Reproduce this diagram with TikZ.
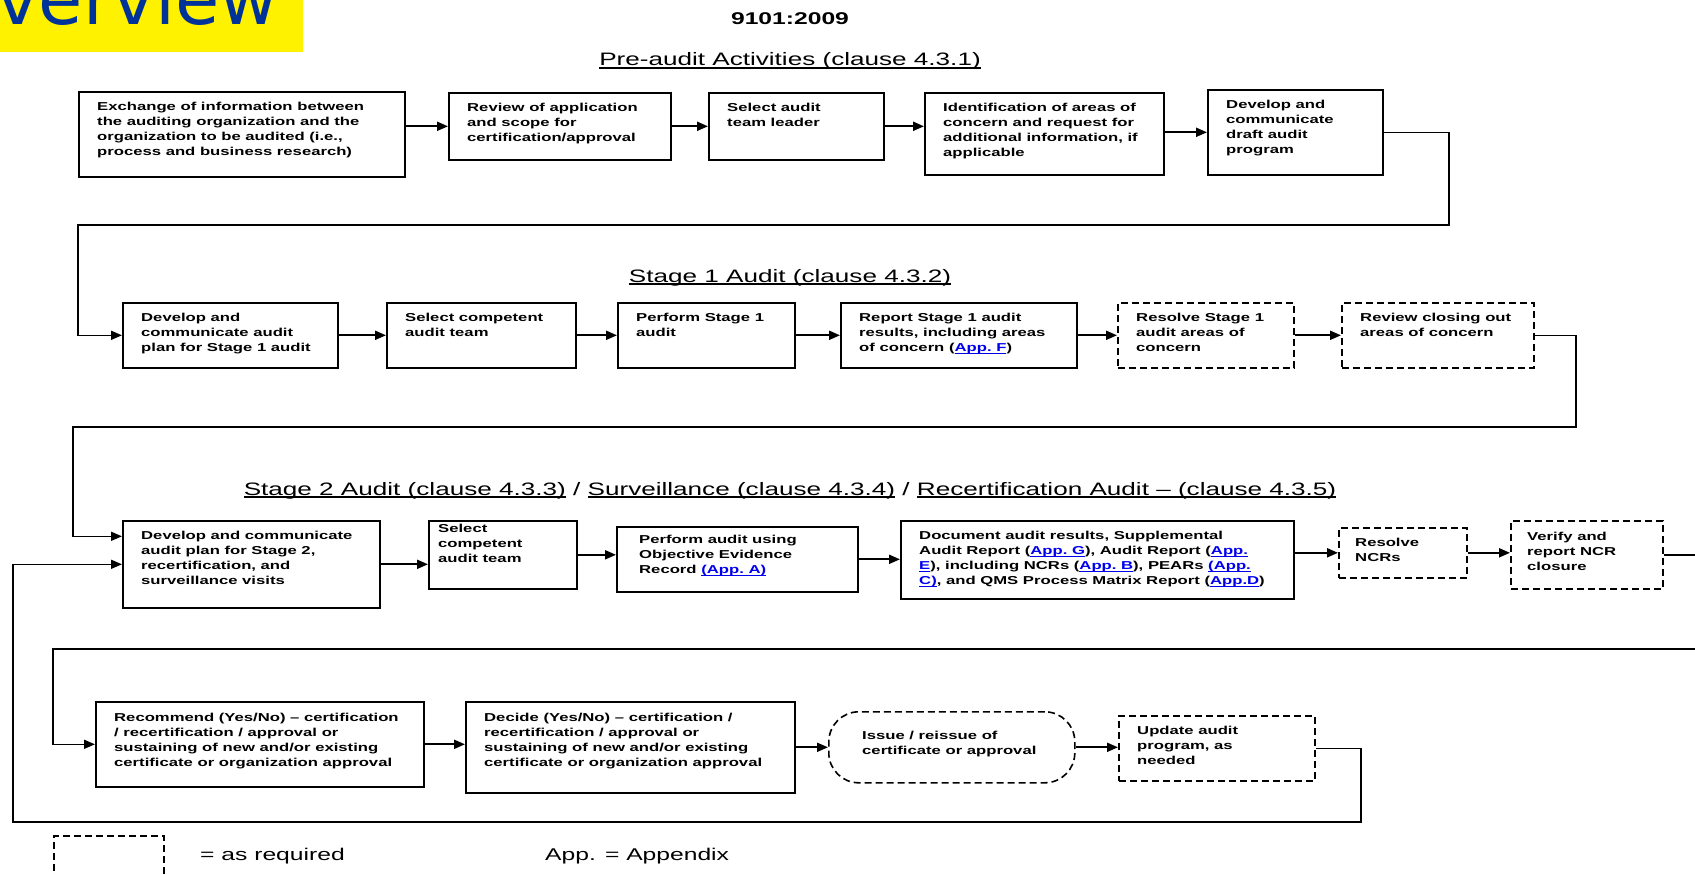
\documentclass[tikz,border=0pt]{standalone}
\usepackage{fontspec}
\usetikzlibrary{arrows.meta}
\usetikzlibrary{positioning}
\definecolor{ovblue}{RGB}{0,51,153}
\definecolor{linkblue}{RGB}{0,0,238}
\newfontfamily\dfont[FakeStretch=1.45]{Liberation Sans}
\newfontfamily\hfont{DejaVu Sans}
\newsavebox\ulnbox
\newcommand{\uln}[1]{\sbox\ulnbox{#1}\leavevmode\rlap{\rule[-2.6pt]{\wd\ulnbox}{1.2pt}}\usebox\ulnbox}
\newcommand{\applink}[1]{\textcolor{linkblue}{\uln{#1}}}
\tikzset{
  box/.style={draw, line width=1.6pt, anchor=north west, inner sep=0pt},
  optbox/.style={box, dash pattern=on 7pt off 4pt},
  txt/.style={align=left, inner sep=0pt, font=\dfont\bfseries\fontsize{11.5}{15}\selectfont},
  ttl/.style={anchor=base, inner sep=0pt, font=\dfont\fontsize{18}{20}\selectfont},
  legend/.style={anchor=base west, inner sep=0pt, font=\dfont\fontsize{17}{20}\selectfont},
  arr/.style={line width=2pt, -{Triangle[length=11pt,width=9pt]}},
  loopline/.style={line width=1.5pt, -{Triangle[length=11pt,width=9pt]}},
}

\begin{document}
\begin{tikzpicture}[x=1pt, y=-1pt]
	\useasboundingbox (0,0) rectangle (1695,875);

	\node[fill=yellow, anchor=north west, inner sep=0pt, minimum width=303, minimum height=52] (banner) at (0,0) {};
	\node[anchor=base west, inner sep=0pt, text=ovblue, font=\hfont\fontsize{72}{72}\selectfont] (overview) at (-4,25) {verview};
	\node[anchor=base, inner sep=0pt, font=\dfont\bfseries\fontsize{17}{20}\selectfont] (stdno) at (790,25) {9101:2009};

	\node[ttl] (ttlpre) at (790,66) {\uln{Pre-audit Activities (clause 4.3.1)}};
	\node[ttl] (ttlone) at (790,282) {\uln{Stage 1 Audit (clause 4.3.2)}};
	\node[ttl] (ttltwo) at (790,495) {\uln{Stage 2 Audit (clause 4.3.3)} / \uln{Surveillance (clause 4.3.4)} / \uln{Recertification Audit – (clause 4.3.5)}};

	\node[box, minimum width=326, minimum height=85] (exch) at (78,91) {};
	\node[txt, below right=11pt and 19pt of exch.north west] (exchT) {Exchange of information between\\the auditing organization and the\\organization to be audited (i.e.,\\process and business research)};
	\node[box, minimum width=222, minimum height=67] (review) at (448,92) {};
	\node[txt, below right=11pt and 19pt of review.north west] (reviewT) {Review of application\\and scope for\\certification/approval};
	\node[box, minimum width=175, minimum height=67] (leader) at (708,92) {};
	\node[txt, below right=11pt and 19pt of leader.north west] (leaderT) {Select audit\\team leader};
	\node[box, minimum width=239, minimum height=82] (concern) at (924,92) {};
	\node[txt, below right=11pt and 19pt of concern.north west] (concernT) {Identification of areas of\\concern and request for\\additional information, if\\applicable};
	\node[box, minimum width=175, minimum height=85] (draft) at (1207,89) {};
	\node[txt, below right=11pt and 19pt of draft.north west] (draftT) {Develop and\\communicate\\draft audit\\program};

	\node[box, minimum width=215, minimum height=65] (plan1) at (122,302) {};
	\node[txt, below right=11pt and 19pt of plan1.north west] (plan1T) {Develop and\\communicate audit\\plan for Stage 1 audit};
	\node[box, minimum width=189, minimum height=65] (team1) at (386,302) {};
	\node[txt, below right=11pt and 19pt of team1.north west] (team1T) {Select competent\\audit team};
	\node[box, minimum width=177, minimum height=65] (perf1) at (617,302) {};
	\node[txt, below right=11pt and 19pt of perf1.north west] (perf1T) {Perform Stage 1\\audit};
	\node[box, minimum width=236, minimum height=65] (report1) at (840,302) {};
	\node[txt, below right=11pt and 19pt of report1.north west] (report1T) {Report Stage 1 audit\\results, including areas\\of concern (\applink{App.~F})};
	\node[optbox, minimum width=176, minimum height=65] (resolve1) at (1117,302) {};
	\node[txt, below right=11pt and 19pt of resolve1.north west] (resolve1T) {Resolve Stage 1\\audit areas of\\concern};
	\node[optbox, minimum width=192, minimum height=65] (closeout) at (1341,302) {};
	\node[txt, below right=11pt and 19pt of closeout.north west] (closeoutT) {Review closing out\\areas of concern};

	\node[box, minimum width=257, minimum height=87] (plan2) at (122,520) {};
	\node[txt, below right=11pt and 19pt of plan2.north west] (plan2T) {Develop and communicate\\audit plan for Stage 2,\\recertification, and\\surveillance visits};
	\node[box, minimum width=148, minimum height=68] (team2) at (428,520) {};
	\node[txt, below right=4pt and 10pt of team2.north west] (team2T) {Select\\competent\\audit team};
	\node[box, minimum width=241, minimum height=65] (perf2) at (616,526) {};
	\node[txt, below right=9pt and 23pt of perf2.north west] (perf2T) {Perform audit using\\Objective Evidence\\Record \applink{(App.~A)}};
	\node[box, minimum width=393, minimum height=78] (docres) at (900,520) {};
	\node[txt, below right=11pt and 19pt of docres.north west] (docresT) {Document audit results, Supplemental\\Audit Report (\applink{App.~G}), Audit Report (\applink{App.}\\\applink{E}), including NCRs (\applink{App.~B}), PEARs \applink{(App.}\\\applink{C)}, and QMS Process Matrix Report (\applink{App.D})};
	\node[optbox, minimum width=128, minimum height=50] (resncr) at (1338,527) {};
	\node[txt, below right=11pt and 17pt of resncr.north west] (resncrT) {Resolve\\NCRs};
	\node[optbox, minimum width=152, minimum height=68] (verify) at (1510,520) {};
	\node[txt, below right=12pt and 17pt of verify.north west] (verifyT) {Verify and\\report NCR\\closure};

	\node[box, minimum width=328, minimum height=85] (recom) at (95,701) {};
	\node[txt, below right=12pt and 19pt of recom.north west] (recomT) {Recommend (Yes/No) – certification\\/ recertification / approval or\\sustaining of new and/or existing\\certificate or organization approval};
	\node[box, minimum width=329, minimum height=91] (decide) at (465,701) {};
	\node[txt, below right=12pt and 19pt of decide.north west] (decideT) {Decide (Yes/No) – certification /\\recertification / approval or\\sustaining of new and/or existing\\certificate or organization approval};
	\node[optbox, rounded corners=30pt, minimum width=246, minimum height=71] (issue) at (828,711) {};
	\node[txt, below right=20pt and 34pt of issue.north west] (issueT) {Issue / reissue of\\certificate or approval};
	\node[optbox, minimum width=196, minimum height=65] (update) at (1118,715) {};
	\node[txt, below right=11pt and 19pt of update.north west] (updateT) {Update audit\\program, as\\needed};

	\node[optbox, minimum width=110, minimum height=60] (legbox) at (53,835) {};
	\node[legend] (legtxt) at (200,860) {= as required};
	\node[legend] (apptxt) at (545,860) {App. = Appendix};

	\coordinate (r1) at (1449,225);
	\coordinate (l1) at (78,225);
	\coordinate (r2) at (1576,427);
	\coordinate (l2) at (73,427);
	\coordinate (e1) at (1695,649);
	\coordinate (l3) at (53,649);
	\coordinate (r4) at (1361,822);
	\coordinate (l4) at (13,822);

	\draw[arr] (exch.east |- review.west) -- (review.west);
	\draw[arr] (review) -- (leader);
	\draw[arr] (leader.east) -- (leader.east -| concern.west);
	\draw[arr] (concern.east |- draft.west) -- (draft.west);
	\draw[loopline] (draft.east) -| (r1) -- (l1) |- (plan1.west);

	\draw[arr] (plan1) -- (team1);
	\draw[arr] (team1) -- (perf1);
	\draw[arr] (perf1) -- (report1);
	\draw[arr] (report1) -- (resolve1);
	\draw[arr] (resolve1) -- (closeout);
	\draw[loopline] (closeout.east) -| (r2) -- (l2) |- ([yshift=28pt]plan2.west);

	\draw[arr] (plan2.east) -- (plan2.east -| team2.west);
	\draw[arr] (team2.east) -- (team2.east -| perf2.west);
	\draw[arr] (perf2.east) -- (perf2.east -| docres.west);
	\draw[arr] (docres.east |- resncr.west) -- (resncr.west);
	\draw[arr] (resncr.east) -- (resncr.east -| verify.west);
	\draw[line width=1.5pt] (verify.east) -- (verify.east -| e1);
	\draw[loopline] (e1) -- (l3) |- (recom.west);

	\draw[arr] (recom.east) -- (recom.east -| decide.west);
	\draw[arr] (decide.east) -- (decide.east -| issue.west);
	\draw[arr] (issue.east) -- (issue.east -| update.west);
	\draw[loopline] (update.east) -| (r4) -- (l4) |- (plan2.west);
\end{tikzpicture}
\end{document}
